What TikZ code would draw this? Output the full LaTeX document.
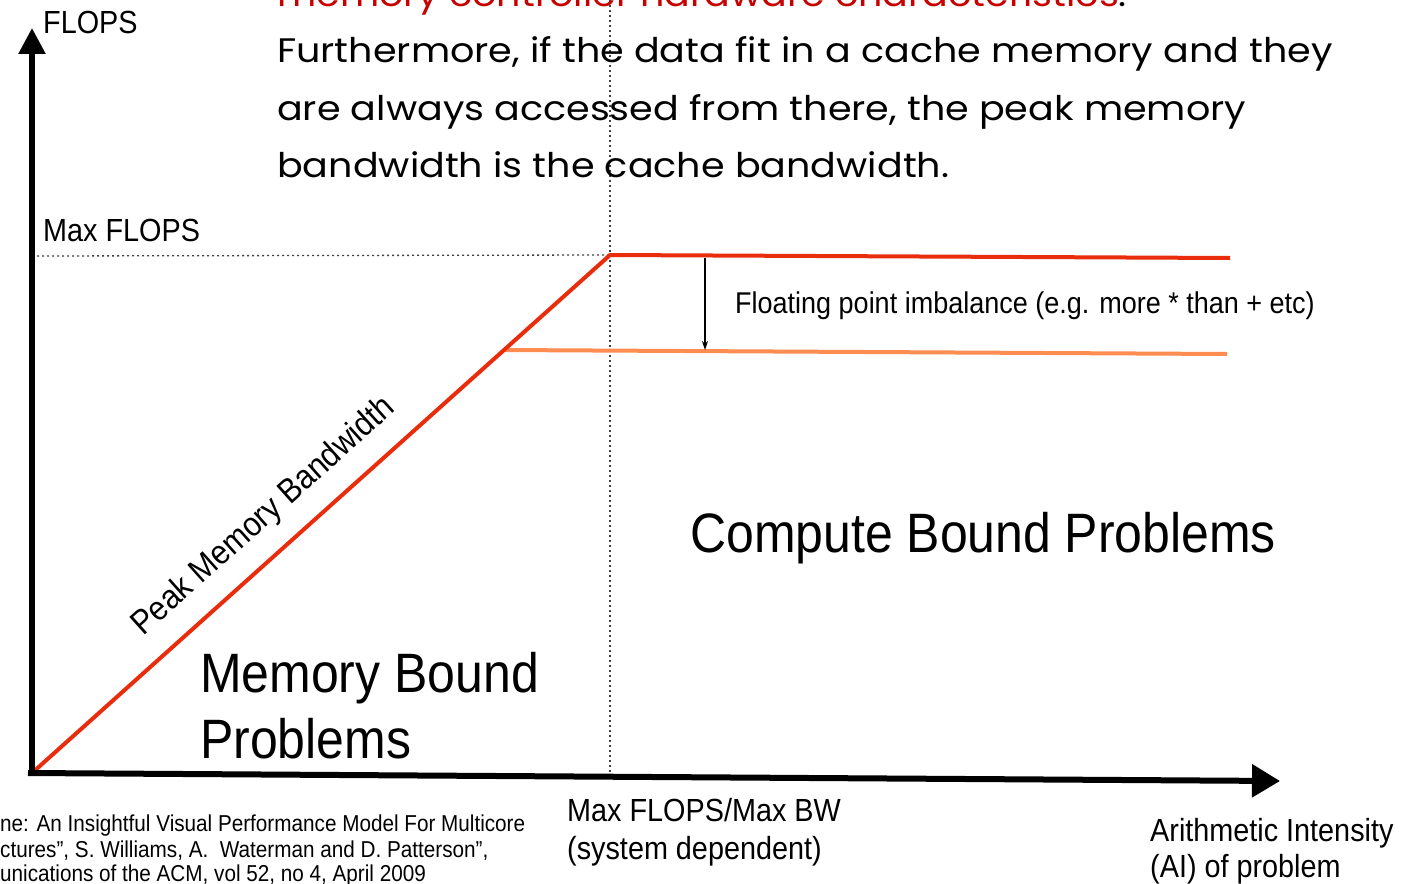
\documentclass[tikz,border=0pt]{standalone}
\usepackage{fontspec}
\setmainfont{Liberation Sans}[FakeStretch=0.9]
\newfontfamily\gothic{Poppins}[FakeStretch=1.12]
\usetikzlibrary{arrows.meta}
\definecolor{roofred}{RGB}{232,44,12}
\definecolor{rooforange}{RGB}{255,140,80}
\definecolor{notered}{RGB}{200,0,0}
\tikzset{
  axisline/.style={line width=5.5pt, -{Triangle[length=26pt,width=26pt]}},
  roofline/.style={line width=4pt, roofred},
  lowroof/.style={line width=4pt, rooforange},
  guide/.style={line width=1.3pt, black!75, dash pattern=on 2pt off 3pt},
  gap/.style={line width=1.2pt, -{Stealth[length=9pt,width=6pt]}},
  lbl/.style={inner sep=0pt, anchor=base west, font=\fontsize{32}{36}\selectfont},
  big/.style={inner sep=0pt, anchor=base west, font=\fontsize{55.5}{66}\selectfont},
  note/.style={inner sep=0pt, anchor=base west, font=\gothic\fontsize{34}{40}\selectfont},
  cite/.style={inner sep=0pt, anchor=base west, font=\fontsize{23}{25}\selectfont},
}
\begin{document}
\begin{tikzpicture}[x=1pt,y=-1pt]
\useasboundingbox (0,0) rectangle (1404,883);
\clip (0,0) rectangle (1404,883);

% key points of the roofline plot
\coordinate (O) at (32,773);
\coordinate (ytip) at (32,28);
\coordinate (xtip) at (1280,781);
\coordinate (ridge) at (610,255);
\coordinate (roofend) at (1230,258);
\coordinate (knee) at (503,350);
\coordinate (lowend) at (1227,354);
\coordinate (maxleft) at (32,256);
\coordinate (vtop) at (610,0);
\coordinate (vbot) at (610,776);
\coordinate (gaptop) at (705,258);
\coordinate (gapbot) at (705,350);

% guide lines
\draw[guide] (maxleft) -- (ridge);
\draw[guide] (vtop) -- (vbot);

% roofs
\draw[lowroof] (knee) -- (lowend);
\draw[roofline, line join=round] (O) -- (ridge) -- (roofend);
\draw[gap] (gaptop) -- (gapbot);

% axes
\draw[axisline] ([yshift=-2pt]O) -- (ytip);
\draw[axisline, line width=6pt, -{Triangle[length=28pt,width=32pt]}] ([xshift=-4pt]O) -- (xtip);

% labels
\node[lbl] (flops) at (43,34) {FLOPS};
\node[lbl] (maxflops) at (43,241) {Max FLOPS};
\node[lbl, font=\fontsize{30}{34}\selectfont] (imbal) at (735,313) {Floating point imbalance (e.g. more * than + etc)};
\node[lbl, rotate=41.8, font=\fontsize{34}{38}\selectfont] (peak) at (143,637) {Peak Memory Bandwidth};
\node[big] (compute) at (690,552) {Compute Bound Problems};
\node[big] (mem1) at (200,692) {Memory Bound};
\node[big] (mem2) at (200,758) {Problems};
\node[lbl] (ridge1) at (567,821) {Max FLOPS/Max BW};
\node[lbl] (ridge2) at (567,859) {(system dependent)};
\node[lbl] (ai1) at (1150,841) {Arithmetic Intensity};
\node[lbl] (ai2) at (1150,877) {(AI) of problem};

% reference
\node[cite] (c1) at (0,831) {ne: An Insightful Visual Performance Model For Multicore};
\node[cite] (c2) at (0,857) {ctures”, S. Williams, A.\ \ Waterman and D. Patterson”,};
\node[cite] (c3) at (0,881) {unications of the ACM, vol 52, no 4, April 2009};

% explanatory text
\node[note] (t0) at (277,7) {\textcolor{notered}{memory controller hardware characteristics}.};
\node[note] (t1) at (277,63) {Furthermore, if the data fit in a cache memory and they};
\node[note] (t2) at (277,120) {are always accessed from there, the peak memory};
\node[note] (t3) at (277,177) {bandwidth is the cache bandwidth.};
\end{tikzpicture}
\end{document}
